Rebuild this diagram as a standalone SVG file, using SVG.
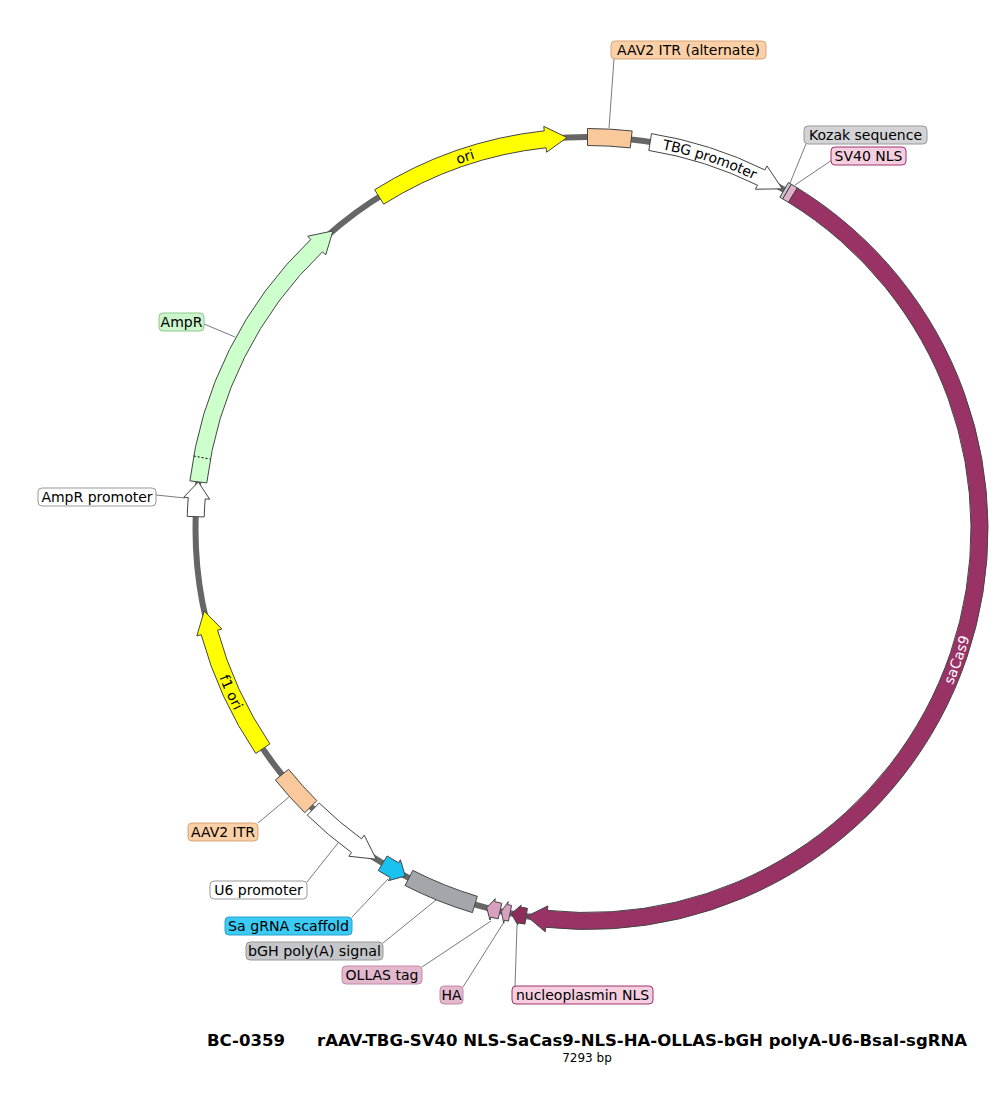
<svg xmlns="http://www.w3.org/2000/svg" width="1000" height="1107" viewBox="0 0 1000 1107">
<style>
.feat{stroke:#444;stroke-width:1;stroke-linejoin:miter}
.lbl{font-family:"DejaVu Sans",Verdana,sans-serif;font-size:14px;text-anchor:middle;fill:#000}
.ftxt{font-family:"DejaVu Sans",Verdana,sans-serif;font-size:14px;text-anchor:middle;dominant-baseline:central}
.lead{stroke:#7a7a7a;stroke-width:1;fill:none}
.box{stroke-width:1}
.title{font-family:"DejaVu Sans",Verdana,sans-serif;font-size:16px;font-weight:bold;fill:#000}
.sub{font-family:"DejaVu Sans",Tahoma,sans-serif;font-size:12px;text-anchor:middle;fill:#000}
</style>
<defs>
<path id="tp-ori" d="M390.32,190.21 A392,392 0 0 1 545.16,139.29"/>
<path id="tp-tbg" d="M630.51,139.37 A392,392 0 0 1 785.28,190.55"/>
<path id="tp-cas9" d="M921.73,733.82 A392,392 0 0 0 976.14,580.17"/>
<path id="tp-f1" d="M204.94,614.51 A392,392 0 0 0 272.79,762.72"/>
</defs>
<rect width="1000" height="1107" fill="#fff"/>
<g id="backbone">
<circle cx="587.5" cy="529" r="392" fill="none" stroke="#666" stroke-width="6"/>
</g>
<g id="connectors">
<line class="lead" x1="609" y1="128" x2="614" y2="59"/>
<line class="lead" x1="790" y1="183" x2="806" y2="144"/>
<line class="lead" x1="795" y1="185" x2="832" y2="160"/>
<line class="lead" x1="204" y1="324" x2="235" y2="337"/>
<line class="lead" x1="156" y1="495" x2="185" y2="498"/>
<line class="lead" x1="258" y1="823" x2="289" y2="797"/>
<line class="lead" x1="307" y1="882" x2="338" y2="843"/>
<line class="lead" x1="352" y1="917" x2="388" y2="879"/>
<line class="lead" x1="383" y1="943" x2="436" y2="900"/>
<line class="lead" x1="422" y1="967" x2="491" y2="921"/>
<line class="lead" x1="463" y1="987" x2="504" y2="922"/>
<line class="lead" x1="515" y1="987" x2="517" y2="925"/>
</g>
<g id="ori">
<path class="feat" fill="#ffff00" d="M374.67,189.74 A400.5,400.5 0 0 1 544.25,130.84 L543.76,126.37 L566.98,137.54 L546.57,152.22 L546.08,147.74 A383.5,383.5 0 0 0 383.71,204.14 Z"/>
<text class="ftxt"><textPath href="#tp-ori" startOffset="50%">ori</textPath></text>
</g>
<g id="aav2-itr-alt">
<path class="feat" fill="#f9c89b" d="M587.5,128.5 A400.5,400.5 0 0 1 632.14,131.0 L630.25,147.89 A383.5,383.5 0 0 0 587.5,145.5 Z"/>
<rect class="box" x="611" y="41" width="155" height="18" rx="4" fill="#fbd0a6" stroke="#d9a478"/>
<text class="lbl" x="688.5" y="55">AAV2 ITR (alternate)</text>
</g>
<g id="tbg-promoter">
<path class="feat" fill="#fff" d="M651.53,133.65 A400.5,400.5 0 0 1 764.95,169.96 L766.94,165.92 L782.31,188.83 L755.42,189.23 L757.42,185.20 A383.5,383.5 0 0 0 648.81,150.43 Z"/>
<text class="ftxt"><textPath href="#tp-tbg" startOffset="50%">TBG promoter</textPath></text>
</g>
<g id="kozak">
<path class="feat" fill="#c5c5cc" d="M788.35,182.51 L791.37,184.27 L782.72,198.91 L779.83,197.21 Z"/>
<rect class="box" x="804" y="126" width="123" height="18" rx="4" fill="#d3d3d6" stroke="#999"/>
<text class="lbl" x="865.5" y="140">Kozak sequence</text>
</g>
<g id="sv40-nls">
<path class="feat" fill="#e0b0c8" d="M791.37,184.27 L797.36,187.88 L788.45,202.36 L782.72,198.91 Z"/>
<rect class="box" x="831" y="147" width="75" height="18" rx="4" fill="#f5cfe0" stroke="#a0336a"/>
<text class="lbl" x="868.5" y="161">SV40 NLS</text>
</g>
<g id="sacas9">
<path class="feat" fill="#993366" stroke="#333" d="M797.36,187.88 A400.5,400.5 0 0 1 545.64,927.31 L545.17,931.78 L526.85,916.28 L547.88,905.92 L547.41,910.40 A383.5,383.5 0 0 0 788.45,202.36 Z"/>
<text class="ftxt" fill="#fff"><textPath href="#tp-cas9" startOffset="50%">saCas9</textPath></text>
</g>
<g id="nucleoplasmin-nls">
<path class="feat" fill="#8e2c5c" d="M524.93,924.08 L518.04,922.92 L517.69,924.89 L511.36,913.54 L521.17,905.20 L520.82,907.17 L527.43,908.27 Z"/>
<rect class="box" x="512" y="986" width="141" height="18" rx="4" fill="#f5cfe0" stroke="#a0336a"/>
<text class="lbl" x="582.5" y="1000">nucleoplasmin NLS</text>
</g>
<g id="ha">
<path class="feat" fill="#d9a1bf" d="M508.44,921.11 L504.34,920.26 L503.71,923.19 L501.32,911.41 L508.29,901.68 L507.66,904.61 L511.60,905.42 Z"/>
<rect class="box" x="440" y="986" width="23" height="18" rx="4" fill="#e3b8cd" stroke="#c48aa8"/>
<text class="lbl" x="451.5" y="1000">HA</text>
</g>
<g id="ollas">
<path class="feat" fill="#d9a1bf" d="M498.20,918.90 L490.73,917.12 L490.01,920.03 L486.70,907.82 L495.33,898.68 L494.60,901.60 L501.77,903.31 Z"/>
<rect class="box" x="342" y="966" width="80" height="18" rx="4" fill="#e3b8cd" stroke="#c48aa8"/>
<text class="lbl" x="382" y="980">OLLAS tag</text>
</g>
<g id="bgh-polya">
<path class="feat" fill="#a3a6ab" d="M472.41,912.61 A400.5,400.5 0 0 1 405.06,885.53 L412.80,870.40 A383.5,383.5 0 0 0 477.30,896.32 Z"/>
<rect class="box" x="246" y="942" width="137" height="18" rx="4" fill="#c4c6c9" stroke="#999"/>
<text class="lbl" x="314.5" y="956" textLength="133" lengthAdjust="spacingAndGlyphs">bGH poly(A) signal</text>
</g>
<g id="sa-grna-scaffold">
<path class="feat" fill="#19c2f0" d="M405.28,876.07 L388.56,880.63 L390.29,877.58 A400.5,400.5 0 0 1 378.24,870.48 L387.12,855.99 A383.5,383.5 0 0 0 398.66,862.78 L400.38,859.74 Z"/>
<rect class="box" x="225" y="917" width="127" height="18" rx="4" fill="#3ccbf4" stroke="#2aa0c8"/>
<text class="lbl" x="288.5" y="931" textLength="121" lengthAdjust="spacingAndGlyphs">Sa gRNA scaffold</text>
</g>
<g id="u6-promoter">
<path class="feat" fill="#fff" d="M376.26,859.22 L348.87,856.24 L351.53,852.60 A400.5,400.5 0 0 1 307.29,815.14 L319.18,803.00 A383.5,383.5 0 0 0 361.54,838.86 L364.19,835.23 Z"/>
<rect class="box" x="210" y="881" width="97" height="18" rx="4" fill="#fff" stroke="#999"/>
<text class="lbl" x="258.5" y="895">U6 promoter</text>
</g>
<g id="aav2-itr">
<path class="feat" fill="#f9c89b" d="M304.80,812.69 A400.5,400.5 0 0 1 275.37,779.95 L288.62,769.30 A383.5,383.5 0 0 0 316.80,800.65 Z"/>
<rect class="box" x="188" y="823" width="70" height="18" rx="4" fill="#fbd0a6" stroke="#d9a478"/>
<text class="lbl" x="223" y="837">AAV2 ITR</text>
</g>
<g id="f1-ori">
<path class="feat" fill="#ffff00" d="M255.81,753.44 A400.5,400.5 0 0 1 201.19,634.68 L196.85,635.87 L204.21,611.17 L221.93,629.01 L217.59,630.19 A383.5,383.5 0 0 0 269.89,743.91 Z"/>
<text class="ftxt"><textPath href="#tp-f1" startOffset="50%">f1 ori</textPath></text>
</g>
<g id="ampr-promoter">
<path class="feat" fill="#fff" d="M187.20,516.42 A400.5,400.5 0 0 1 188.23,497.58 L183.75,497.22 L198.34,481.91 L209.67,499.26 L205.18,498.91 A383.5,383.5 0 0 0 204.19,516.95 Z"/>
<rect class="box" x="38" y="488" width="118" height="18" rx="4" fill="#fff" stroke="#999"/>
<text class="lbl" x="97" y="502">AmpR promoter</text>
</g>
<g id="ampr">
<path class="feat" fill="#ccffcc" d="M189.90,480.88 A400.5,400.5 0 0 1 310.80,239.45 L307.69,236.20 L332.92,230.92 L325.66,254.99 L322.55,251.74 A383.5,383.5 0 0 0 206.78,482.93 Z"/>
<line x1="193.71" y1="456.01" x2="210.42" y2="459.11" stroke="#000" stroke-width="1" stroke-dasharray="2,2"/>
<rect class="box" x="159" y="313" width="45" height="18" rx="4" fill="#ccf5cc" stroke="#8fc88f"/>
<text class="lbl" x="181.5" y="327">AmpR</text>
</g>
<g id="title">
<text class="title" x="207" y="1046" textLength="78" lengthAdjust="spacingAndGlyphs">BC-0359</text>
<text class="title" x="317" y="1046" textLength="650" lengthAdjust="spacingAndGlyphs">rAAV-TBG-SV40 NLS-SaCas9-NLS-HA-OLLAS-bGH polyA-U6-BsaI-sgRNA</text>
<text class="sub" x="587" y="1062">7293 bp</text>
</g>
</svg>
